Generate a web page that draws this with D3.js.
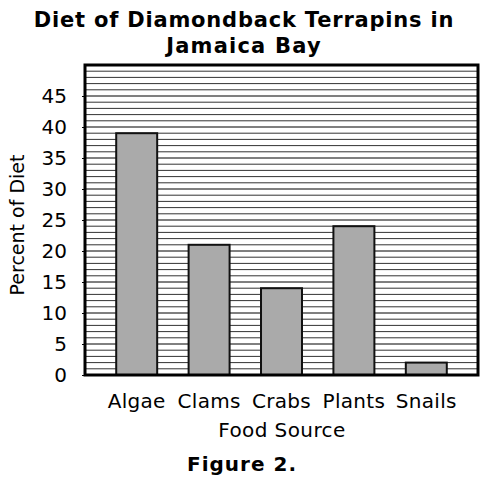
<!DOCTYPE html>
<html><head><meta charset="utf-8">
<script src="https://cdn.jsdelivr.net/npm/d3@7"></script>
<style>body{margin:0;background:#fff;} text{font-family:"DejaVu Sans",Verdana,sans-serif;fill:#000;}</style>
</head><body>
<svg id="c" width="494" height="485"></svg>
<script>
const categories = ["Algae","Clams","Crabs","Plants","Snails"];
const values = [39,21,14,24,2];
const yTicks = [0,5,10,15,20,25,30,35,40,45];
const titleLines = ["Diet of Diamondback Terrapins in","Jamaica Bay"];
const xLabel = "Food Source", yLabel = "Percent of Diet", caption = "Figure 2.";

const svg = d3.select("#c");
const L=85, R=478, T=65, B=375;
const x = d3.scaleBand().domain(categories).range([L,R]).paddingInner(0.434).paddingOuter(0.431);
const y = d3.scaleLinear().domain([0,50]).range([B,T]);

// grid
svg.append("g").selectAll("line").data(d3.range(1,50)).join("line")
  .attr("x1",L).attr("x2",R).attr("y1",d=>y(d)).attr("y2",d=>y(d))
  .attr("stroke",d=>d%5===0?"#000":"#333").attr("stroke-width",1);

// bars
svg.append("g").selectAll("rect").data(values).join("rect")
  .attr("x",(d,i)=>x(categories[i])).attr("width",x.bandwidth())
  .attr("y",d=>y(d)).attr("height",d=>B-y(d))
  .attr("fill","#aaaaaa").attr("stroke","#111").attr("stroke-width",2);

// frame
svg.append("rect").attr("x",L).attr("y",T).attr("width",R-L).attr("height",B-T)
  .attr("fill","none").attr("stroke","#000").attr("stroke-width",3);

// y axis
const ya = svg.append("g").attr("transform",`translate(${L},0)`)
  .call(d3.axisLeft(y).tickValues(yTicks).tickSize(3).tickPadding(15));
ya.select(".domain").remove();
ya.selectAll("text").attr("font-size",20).style("font-family","DejaVu Sans");

// x labels
const xa = svg.append("g").attr("transform",`translate(0,${B})`)
  .call(d3.axisBottom(x).tickSize(0).tickPadding(19));
xa.select(".domain").remove();
xa.selectAll("text").attr("font-size",20).attr("letter-spacing",0.3).style("font-family","DejaVu Sans");

// titles
svg.append("text").attr("x",244).attr("y",27).attr("text-anchor","middle")
  .attr("font-size",21).attr("letter-spacing",0.8).attr("font-weight","bold").text(titleLines[0]);
svg.append("text").attr("x",244).attr("y",53).attr("text-anchor","middle")
  .attr("font-size",21).attr("letter-spacing",1.2).attr("font-weight","bold").text(titleLines[1]);

svg.append("text").attr("x",282).attr("y",437).attr("text-anchor","middle")
  .attr("font-size",20).attr("letter-spacing",0.4).text(xLabel);
svg.append("text").attr("transform","translate(24,225) rotate(-90)").attr("text-anchor","middle")
  .attr("font-size",19).text(yLabel);
svg.append("text").attr("x",242).attr("y",471).attr("text-anchor","middle")
  .attr("font-size",20).attr("letter-spacing",1).attr("font-weight","bold").text(caption);
</script>
</body></html>
